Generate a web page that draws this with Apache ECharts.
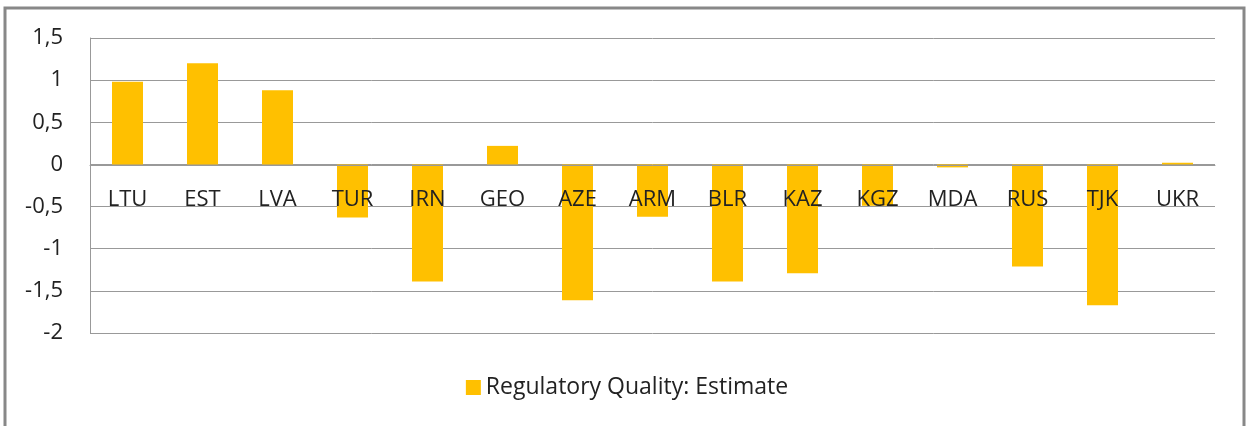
<!DOCTYPE html>
<html>
<head>
<meta charset="utf-8">
<script src="https://cdn.jsdelivr.net/npm/echarts@6/dist/echarts.min.js"></script>
<style>
html, body { margin: 0; padding: 0; background: #fff; }
#chart { width: 1254px; height: 426px; }
</style>
</head>
<body>
<div id="chart"></div>
<script>
var countries = ['LTU', 'EST', 'LVA', 'TUR', 'IRN', 'GEO', 'AZE', 'ARM', 'BLR', 'KAZ', 'KGZ', 'MDA', 'RUS', 'TJK', 'UKR'];
var regQuality = [0.98, 1.2, 0.88, -0.63, -1.39, 0.22, -1.61, -0.62, -1.39, -1.29, -0.49, -0.035, -1.21, -1.67, 0.02];
var seriesName = 'Regulatory Quality: Estimate';

var fontName = '"Open Sans", "Liberation Sans", sans-serif';

var chart = echarts.init(document.getElementById('chart'));
var option = {
    animation: false,
    graphic: [
        {
            type: 'rect',
            shape: { x: 5, y: 8, width: 1239, height: 422 },
            style: { fill: 'none', stroke: '#888', lineWidth: 3 }
        }
    ],
    legend: {
        data: [seriesName],
        bottom: 22,
        left: 'center',
        icon: 'rect',
        itemWidth: 15,
        itemHeight: 15,
        itemGap: 6,
        textStyle: { fontFamily: fontName, fontSize: 23, color: '#222' }
    },
    grid: {
        left: 90,
        right: 39,
        top: 38,
        bottom: 93
    },
    xAxis: {
        type: 'category',
        data: countries,
        offset: -168,
        z: 5,
        axisLine: { onZero: false, lineStyle: { color: '#999', width: 1 } },
        axisTick: { show: false },
        axisLabel: {
            margin: 24,
            color: '#222',
            fontFamily: fontName,
            fontSize: 22
        }
    },
    yAxis: {
        type: 'value',
        min: -2,
        max: 1.5,
        interval: 0.5,
        axisLine: { show: true, lineStyle: { color: '#999', width: 1 } },
        axisTick: { show: false },
        splitLine: { lineStyle: { color: '#999', width: 1 } },
        axisLabel: {
            margin: 27,
            color: '#222',
            fontFamily: fontName,
            fontSize: 22,
            formatter: function (v) { return String(v).replace('.', ','); }
        }
    },
    series: [
        {
            name: seriesName,
            type: 'bar',
            barWidth: 31,
            itemStyle: { color: '#FFC000' },
            data: regQuality
        }
    ]
};
chart.setOption(option);
</script>
</body>
</html>
